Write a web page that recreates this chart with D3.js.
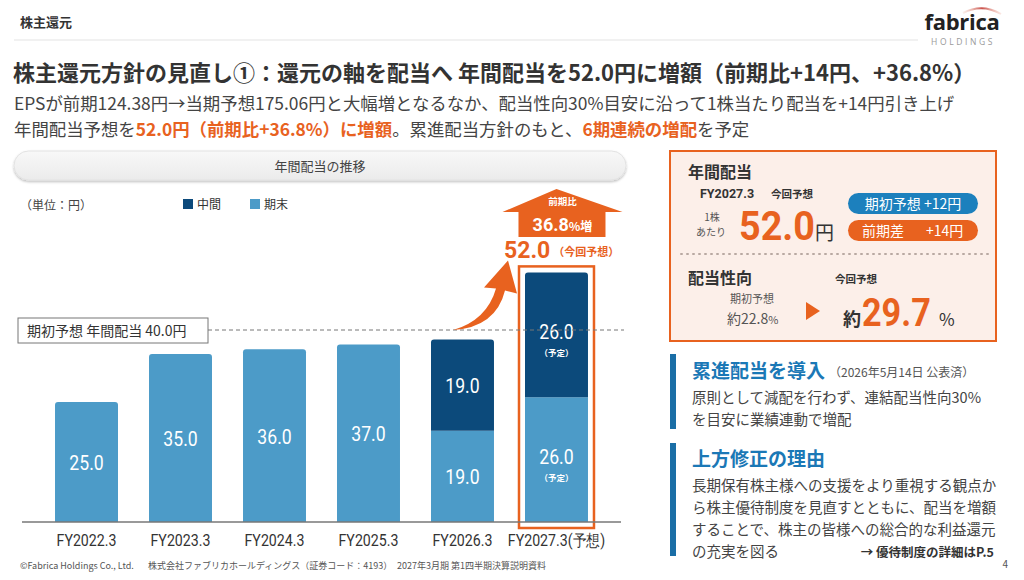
<!DOCTYPE html>
<html>
<head>
<meta charset="utf-8">
<script src="https://cdn.jsdelivr.net/npm/d3@7"></script>
<style>
    body { margin: 0; background: #fff; }
    svg { display: block; font-family: "Noto Sans CJK JP", "Noto Sans", sans-serif; }
</style>
</head>
<body>
<svg id="slide" width="1024" height="580"></svg>
<script>
'use strict';

// Chart data
var categories = ['FY2022.3', 'FY2023.3', 'FY2024.3', 'FY2025.3', 'FY2026.3', 'FY2027.3(予想)'],
    interim = [0, 0, 0, 0, 19.0, 26.0],            // 中間
    yearEnd = [25.0, 35.0, 36.0, 37.0, 19.0, 26.0], // 期末
    planned = [false, false, false, false, false, true],
    seriesKeys = ['期末', '中間'],
    legendItems = ['中間', '期末'];

var initialForecast = 40.0,
    currentForecast = 52.0,
    growthRate = '36.8';

// Colours
var LIGHT = '#4c9bc8',
    DARK = '#0c4a7b',
    ORANGE = '#e8621f',
    BLUE = '#1b78b6',
    TEXT = '#3a3a3a';

var svg = d3.select('#slide'),
    NUM_FONT = '"Roboto", "Noto Sans", sans-serif';

svg.append('rect').attr('width', 1024).attr('height', 580).attr('fill', '#fff');

var defs = svg.append('defs');

var pillGrad = defs.append('linearGradient').attr('id', 'pillGrad')
    .attr('x1', 0).attr('x2', 0).attr('y1', 0).attr('y2', 1);
pillGrad.append('stop').attr('offset', '0%').attr('stop-color', '#f8f8f8');
pillGrad.append('stop').attr('offset', '100%').attr('stop-color', '#ebebeb');

var shadow = defs.append('filter').attr('id', 'shadow')
    .attr('x', '-5%').attr('y', '-30%').attr('width', '110%').attr('height', '170%');
shadow.append('feDropShadow').attr('dx', 0).attr('dy', 1.5).attr('stdDeviation', 1.2)
    .attr('flood-color', '#000').attr('flood-opacity', 0.25);

var arcGrad = defs.append('linearGradient').attr('id', 'arcGrad');
arcGrad.append('stop').attr('offset', '0%').attr('stop-color', '#f3c9b8').attr('stop-opacity', 0.3);
arcGrad.append('stop').attr('offset', '50%').attr('stop-color', '#c9504a');
arcGrad.append('stop').attr('offset', '100%').attr('stop-color', '#f0b0a0').attr('stop-opacity', 0.3);


/**
 * Adds a text element with a few common attributes.
 * opts.sx squeezes the text horizontally (the slide uses a condensed face for numbers).
 */
function label(g, x, y, txt, size, opts) {
    opts = opts || {};
    var t = g.append('text')
        .attr('font-size', size)
        .attr('font-weight', opts.weight || 'normal')
        .attr('fill', opts.fill || TEXT)
        .attr('text-anchor', opts.anchor || 'start')
        .attr('font-family', opts.family || null)
        .text(txt);
    if (opts.sx) {
        t.attr('transform', 'translate(' + x + ',' + y + ') scale(' + opts.sx + ',1)');
    } else {
        t.attr('x', x).attr('y', y);
    }
    return t;
}


function drawHeader() {
    label(svg, 20, 27, '株主還元', 13, { weight: 'bold', fill: '#333' });

    svg.append('line')
        .attr('x1', 14).attr('x2', 918).attr('y1', 40).attr('y2', 40)
        .attr('stroke', '#e3e3e3');

    // Logo
    svg.append('path')
        .attr('d', 'M963,13 Q982,3 1001,14')
        .attr('fill', 'none').attr('stroke', 'url(#arcGrad)').attr('stroke-width', 2);
    label(svg, 962, 30, 'fabrica', 22, { weight: 'bold', fill: '#222', anchor: 'middle', family: '"Open Sans", sans-serif' })
        .attr('letter-spacing', -0.3);
    label(svg, 963, 45, 'HOLDINGS', 8.5, { fill: '#9a9a9a', anchor: 'middle', family: '"Open Sans", sans-serif' })
        .attr('letter-spacing', 2.6);

    label(svg, 13, 81, '株主還元方針の見直し①：還元の軸を配当へ 年間配当を52.0円に増額（前期比+14円、+36.8%）',
        22, { weight: 'bold', fill: '#333' });

    label(svg, 14, 110, 'EPSが前期124.38円→当期予想175.06円と大幅増となるなか、配当性向30%目安に沿って1株当たり配当を+14円引き上げ',
        17.4, { fill: '#444' });

    var line2 = label(svg, 14, 136, '', 17.4, { fill: '#444' });
    line2.append('tspan').text('年間配当予想を');
    line2.append('tspan').attr('fill', ORANGE).attr('font-weight', 'bold').text('52.0円（前期比+36.8%）に増額');
    line2.append('tspan').text('。累進配当方針のもと、');
    line2.append('tspan').attr('fill', ORANGE).attr('font-weight', 'bold').text('6期連続の増配');
    line2.append('tspan').text('を予定');
}


function drawFooter() {
    label(svg, 20, 569, '©Fabrica Holdings Co., Ltd.', 9, { fill: '#555' });
    label(svg, 148, 569, '株式会社ファブリカホールディングス（証券コード：4193）', 9, { fill: '#555' });
    label(svg, 397, 569, '2027年3月期 第1四半期決算説明資料', 9, { fill: '#555' });
    label(svg, 1008, 568, '4', 10, { fill: '#555', anchor: 'end' });
}


function drawChart() {
    var g = svg.append('g').attr('id', 'chart');

    // Title pill
    g.append('rect')
        .attr('x', 14).attr('y', 151).attr('width', 612).attr('height', 29).attr('rx', 14.5)
        .attr('fill', 'url(#pillGrad)').attr('stroke', '#e2e2e2')
        .attr('filter', 'url(#shadow)');
    label(g, 320, 171, '年間配当の推移', 13, { anchor: 'middle', fill: '#444' });

    label(g, 20, 210, '（単位：円）', 12, { fill: '#444' });

    // Legend
    var legendColor = { '中間': DARK, '期末': LIGHT },
        legend = g.selectAll('.legend').data(legendItems).enter()
            .append('g').attr('class', 'legend')
            .attr('transform', function (d, i) { return 'translate(' + (183 + i * 67) + ',199)'; });
    legend.append('rect').attr('width', 10).attr('height', 10)
        .attr('fill', function (d) { return legendColor[d]; });
    legend.append('text').attr('x', 14).attr('y', 10).attr('font-size', 12).attr('fill', '#333')
        .text(function (d) { return d; });

    // Scales
    var rows = categories.map(function (c, i) {
        return { cat: c, '期末': yearEnd[i], '中間': interim[i], planned: planned[i] };
    });

    var x = d3.scaleBand().domain(categories).range([24, 619]).paddingInner(0.33).paddingOuter(0.33),
        y = d3.scaleLinear().domain([0, 50]).range([522, 282]);

    var stacked = d3.stack().keys(seriesKeys)(rows),
        color = { '期末': LIGHT, '中間': DARK };

    // Orange highlight frame around the forecast year
    var last = categories[categories.length - 1];
    g.append('rect')
        .attr('x', x(last) - 6)
        .attr('y', y(currentForecast) - 6)
        .attr('width', x.bandwidth() + 12)
        .attr('height', y(0) - y(currentForecast) + 12)
        .attr('fill', 'none').attr('stroke', ORANGE).attr('stroke-width', 2.5);

    // Bars
    var layers = g.selectAll('.layer').data(stacked).enter()
        .append('g').attr('class', 'layer')
        .attr('fill', function (d) { return color[d.key]; });

    layers.selectAll('path').data(function (d) {
        return d.filter(function (s) { return s[1] > s[0]; });
    }).enter()
        .append('path')
        .attr('d', function (s) {
            var x0 = x(s.data.cat), w = x.bandwidth(),
                y0 = y(s[0]), y1 = y(s[1]),
                isTop = s[1] === s.data['期末'] + s.data['中間'],
                r = isTop ? 3 : 0;
            return 'M' + x0 + ',' + y0 +
                'V' + (y1 + r) +
                'Q' + x0 + ',' + y1 + ' ' + (x0 + r) + ',' + y1 +
                'H' + (x0 + w - r) +
                'Q' + (x0 + w) + ',' + y1 + ' ' + (x0 + w) + ',' + (y1 + r) +
                'V' + y0 + 'Z';
        });

    // Segment labels
    layers.each(function (layer) {
        var lg = d3.select(this);
        layer.forEach(function (s) {
            if (s[1] <= s[0]) { return; }
            var cx = x(s.data.cat) + x.bandwidth() / 2,
                cy = (y(s[0]) + y(s[1])) / 2,
                txt = d3.format('.1f')(s[1] - s[0]);
            if (s.data.planned) {
                label(lg, cx, cy + 4, txt, 21, { fill: '#fff', anchor: 'middle', family: NUM_FONT, sx: 0.84 });
                label(lg, cx, cy + 21, '（予定）', 8.5, { fill: '#fff', anchor: 'middle', weight: 'bold' });
            } else {
                label(lg, cx, cy + 8, txt, 21, { fill: '#fff', anchor: 'middle', family: NUM_FONT, sx: 0.84 });
            }
        });
    });

    // Axis
    var axis = g.append('g')
        .attr('transform', 'translate(0,' + y(0) + ')')
        .call(d3.axisBottom(x).tickSize(0).tickPadding(0));
    axis.select('.domain').attr('stroke', '#777').attr('stroke-width', 1.5).attr('d', 'M22,0H621');
    axis.selectAll('.tick text')
        .attr('dy', null).attr('y', null)
        .attr('font-size', 16.5).attr('fill', '#333')
        .attr('font-family', NUM_FONT)
        .attr('transform', 'translate(0,24) scale(0.86,1)');

    // Initial forecast line
    g.append('line')
        .attr('x1', 208).attr('x2', 624)
        .attr('y1', y(initialForecast)).attr('y2', y(initialForecast))
        .attr('stroke', '#777').attr('stroke-dasharray', '4,3');
    g.append('rect')
        .attr('x', 18).attr('y', y(initialForecast) - 12).attr('width', 190).attr('height', 25)
        .attr('fill', '#fff').attr('stroke', '#777');
    label(g, 27, y(initialForecast) + 6, '期初予想 年間配当 ' + d3.format('.1f')(initialForecast) + '円', 14, { fill: '#333' });

    // Rising arrow (from the 40.0 line to the new forecast)
    var prev = categories[categories.length - 2],
        tx = x(prev) + x.bandwidth() * 0.35,
        ty = y(initialForecast),
        hx = x(last) - 17,
        hy = y(currentForecast) - 12;
    g.append('path')
        .attr('d',
            'M' + tx + ',' + ty +
            'Q' + (hx - 12) + ',' + (ty - 3) + ' ' + (hx - 3) + ',' + (hy + 30) +
            'L' + (hx + 9) + ',' + (hy + 33) +
            'L' + hx + ',' + hy +
            'L' + (hx - 24) + ',' + (hy + 27) +
            'L' + (hx - 12) + ',' + (hy + 28) +
            'Q' + (hx - 21) + ',' + (ty - 10) + ' ' + tx + ',' + ty + 'Z')
        .attr('fill', ORANGE);

    // New forecast value
    var vt = label(g, x(last) - 21, y(currentForecast) - 14, '', 23, { fill: ORANGE, weight: 'bold' });
    vt.append('tspan').attr('font-family', NUM_FONT).text(d3.format('.1f')(currentForecast));
    vt.append('tspan').attr('font-size', 11).attr('dx', 3).attr('dy', -2).text('（今回予想）');

    // Block arrow with growth rate
    var bx = x(last) + x.bandwidth() / 2;
    g.append('path')
        .attr('d', 'M' + (bx - 54) + ',' + 212 + 'L' + bx + ',' + 189 + 'L' + (bx + 66) + ',' + 212 +
            'H' + (bx + 49) + 'V' + 237 + 'H' + (bx - 38) + 'V' + 212 + 'Z')
        .attr('fill', ORANGE);
    label(g, bx + 6, 205, '前期比', 9.5, { fill: '#fff', anchor: 'middle', weight: 'bold' });
    var gt = label(g, bx + 6, 231, '', 18, { fill: '#fff', anchor: 'middle', weight: 'bold' });
    gt.append('tspan').attr('font-family', NUM_FONT).text(growthRate);
    gt.append('tspan').attr('font-size', 12).text('%増');
}


function drawPanel() {
    var g = svg.append('g').attr('id', 'panel');

    g.append('rect')
        .attr('x', 670).attr('y', 151).attr('width', 326).attr('height', 190)
        .attr('fill', '#fcefe9').attr('stroke', ORANGE).attr('stroke-width', 2);

    label(g, 688, 178, '年間配当', 16, { weight: 'bold', fill: '#333' });
    label(g, 700, 198, 'FY2027.3', 12.5, { weight: 'bold', fill: '#333', family: NUM_FONT });
    label(g, 771, 198, '今回予想', 10.5, { weight: 'bold', fill: '#333' });
    label(g, 712, 221, '1株', 10, { fill: '#555', anchor: 'middle' });
    label(g, 711, 236, 'あたり', 10, { fill: '#555', anchor: 'middle' });
    label(g, 739, 240, '52.0', 41, { weight: 'bold', fill: ORANGE, family: NUM_FONT, sx: 0.92 });
    label(g, 815, 240, '円', 19, { fill: '#333' });

    // Pills
    g.append('rect').attr('x', 848).attr('y', 193).attr('width', 130).attr('height', 21).attr('rx', 10.5).attr('fill', '#1c80bd');
    label(g, 913, 209, '期初予想 +12円', 14, { fill: '#fff', anchor: 'middle' });
    g.append('rect').attr('x', 848).attr('y', 220).attr('width', 130).attr('height', 21).attr('rx', 10.5).attr('fill', ORANGE);
    label(g, 862, 236, '前期差', 14, { fill: '#fff' });
    label(g, 926, 236, '+14円', 14, { fill: '#fff' });

    g.append('line')
        .attr('x1', 681).attr('x2', 988).attr('y1', 254).attr('y2', 254)
        .attr('stroke', '#b9a9a2').attr('stroke-width', 2).attr('stroke-dasharray', '1,5')
        .attr('stroke-linecap', 'round');

    label(g, 688, 284, '配当性向', 16, { weight: 'bold', fill: '#333' });
    label(g, 835, 283, '今回予想', 10.5, { weight: 'bold', fill: '#333' });
    label(g, 730, 303, '期初予想', 11, { fill: '#555' });
    var p0 = label(g, 727, 324, '約22.8', 14, { fill: '#555' });
    p0.append('tspan').attr('font-size', 11).text('%');

    g.append('path').attr('d', 'M806,302 L820,311 L806,320 Z').attr('fill', ORANGE);

    label(g, 843, 326, '約', 18, { weight: 'bold', fill: '#333' });
    label(g, 862, 326, '29.7', 38, { weight: 'bold', fill: ORANGE, family: NUM_FONT, sx: 0.9 });
    label(g, 939, 326, '%', 17, { fill: '#333' });
}


function drawNotes() {
    var g = svg.append('g').attr('id', 'notes');

    g.append('rect').attr('x', 670).attr('y', 354).attr('width', 6).attr('height', 75).attr('fill', '#1a6ea6');
    label(g, 692, 378, '累進配当を導入', 19, { weight: 'bold', fill: BLUE });
    label(g, 829, 377, '（2026年5月14日 公表済）', 12, { fill: '#555' });
    label(g, 692, 403, '原則として減配を行わず、連結配当性向30%', 14.5, { fill: '#444' });
    label(g, 692, 425, 'を目安に業績連動で増配', 14.5, { fill: '#444' });

    g.append('rect').attr('x', 670).attr('y', 443).attr('width', 6).attr('height', 113).attr('fill', '#1a6ea6');
    label(g, 692, 466, '上方修正の理由', 19, { weight: 'bold', fill: BLUE });
    var lines = [
        '長期保有株主様への支援をより重視する観点か',
        'ら株主優待制度を見直すとともに、配当を増額',
        'することで、株主の皆様への総合的な利益還元',
        'の充実を図る'
    ];
    lines.forEach(function (t, i) {
        label(g, 692, 491 + i * 22, t, 14.5, { fill: '#444' });
    });
    label(g, 994, 557, '→ 優待制度の詳細はP.5', 12.5, { weight: 'bold', fill: '#333', anchor: 'end' });
}


drawHeader();
drawChart();
drawPanel();
drawNotes();
drawFooter();
</script>
</body>
</html>
